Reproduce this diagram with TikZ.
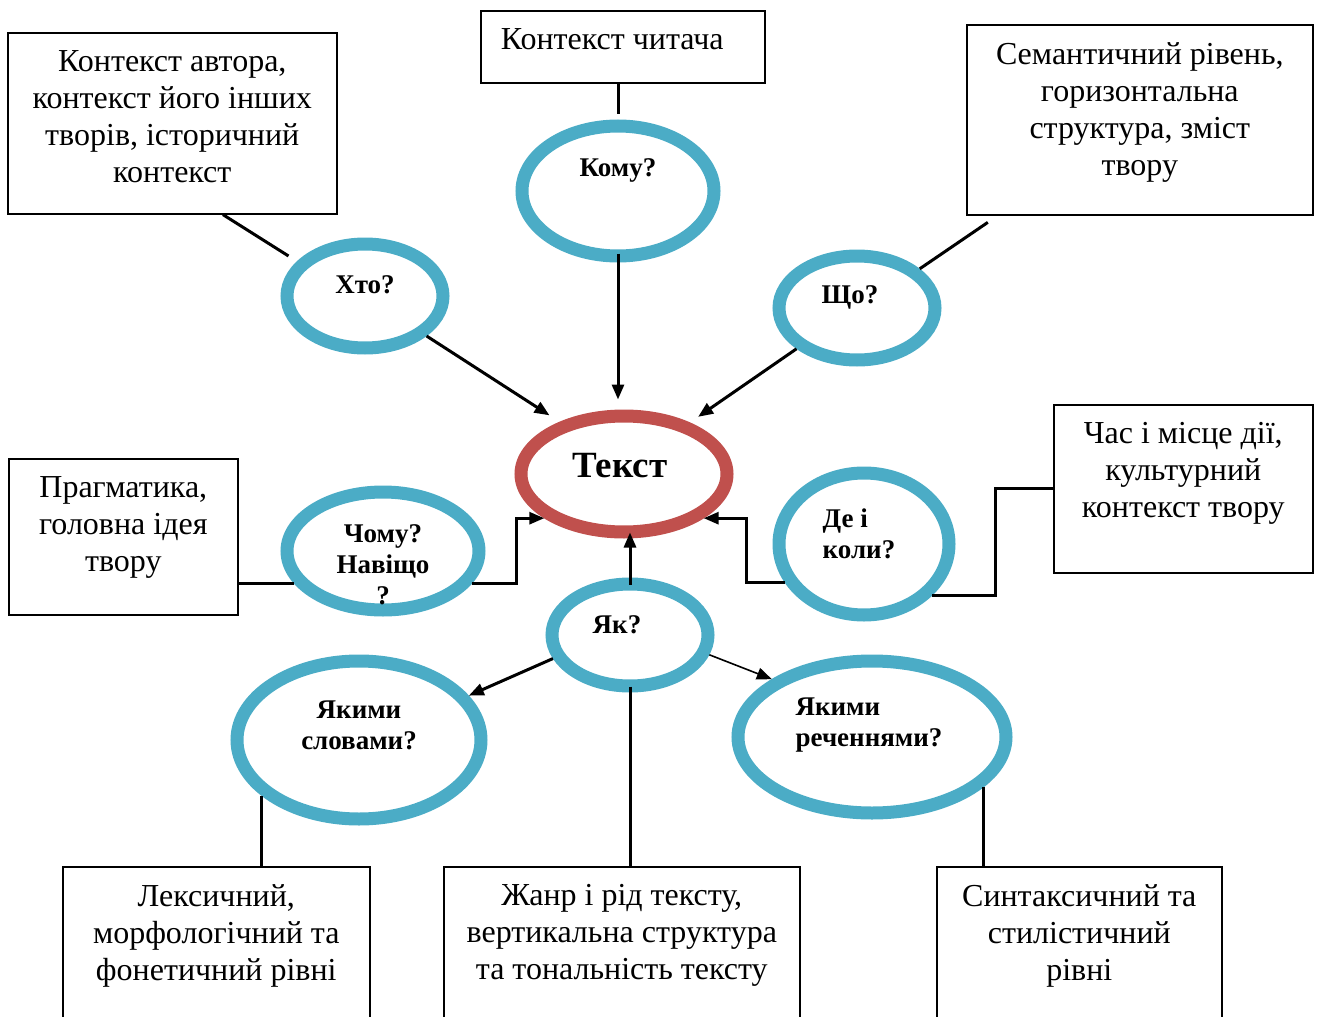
\documentclass[tikz,border=0pt]{standalone}
\usepackage{fontspec}
\setmainfont{Liberation Serif}
\usepackage{tikz}
\usetikzlibrary{arrows.meta,shapes.geometric}
\definecolor{ring_blue}{RGB}{75,172,198}
\definecolor{ring_red}{RGB}{192,80,77}
\newcommand{\boxtxt}[4][\centering]{\parbox[c][#2][t]{#3}{#1#4}}

\begin{document}
\begin{tikzpicture}[x=0.5pt,y=-0.5pt,>={Triangle[length=7.5pt,width=6pt]}]
    \tikzstyle{qring}=[draw=ring_blue, line width=6.5pt, ellipse, inner sep=0pt]
    \tikzstyle{corering}=[qring, draw=ring_red]
    \tikzstyle{qtext}=[font=\bfseries\fontsize{13.5}{15.5}\selectfont, align=center]
    \tikzstyle{ctxbox}=[draw, line width=0.8pt, anchor=north west, inner xsep=0pt, inner ysep=9pt, font=\fontsize{16}{18.5}\selectfont]
    \tikzstyle{link}=[line width=1.5pt]

    \useasboundingbox (0,0) rectangle (1319,1017);
    \clip (0,0) rectangle (1319,1017);

    % context boxes
    \node[ctxbox] (author)    at (7,32)    {\boxtxt{72.5pt}{164.5pt}{Контекст автора,\\ контекст його інших\\ творів, історичний\\ контекст}};
    \node[ctxbox] (reader)    at (480,10)  {\boxtxt[\raggedright\hspace*{10pt}]{18pt}{142pt}{Контекст читача}};
    \node[ctxbox] (semantic)  at (966,24)  {\boxtxt{77pt}{173pt}{Семантичний рівень,\\ горизонтальна\\ структура, зміст\\ твору}};
    \node[ctxbox] (setting)   at (1053,404) {\boxtxt{66pt}{129.5pt}{Час і місце дії,\\ культурний\\ контекст твору}};
    \node[ctxbox] (pragmatic) at (8,458)   {\boxtxt{60pt}{114.5pt}{Прагматика,\\ головна ідея\\ твору}};
    \node[ctxbox] (lexical)   at (62,866)  {\boxtxt{100pt}{153.5pt}{Лексичний,\\ морфологічний та\\ фонетичний рівні}};
    \node[ctxbox] (genre)     at (443,866) {\boxtxt{100pt}{178pt}{Жанр і рід тексту,\\ вертикальна структура\\ та тональність тексту}};
    \node[ctxbox] (syntax)    at (936,866) {\boxtxt{100pt}{142.5pt}{Синтаксичний та\\ стилістичний\\ рівні}};

    % questions
    \node[qring, minimum width=96pt, minimum height=65pt, label={[qtext, yshift=10.5pt]center:Кому?}] (whom) at (618,191) {};
    \node[qring, minimum width=78pt, minimum height=52pt, label={[qtext, yshift=5.5pt]center:Хто?}] (who) at (365,296) {};
    \node[qring, minimum width=78pt, minimum height=52pt, label={[qtext, xshift=-3.5pt, yshift=5.5pt]center:Що?}] (what) at (857,308) {};
    \node[corering, minimum width=103pt, minimum height=58pt, label={[qtext, font=\bfseries\fontsize{18.5}{21}\selectfont, xshift=-2pt, yshift=4pt]center:Текст}] (core) at (624,474) {};
    \node[qring, minimum width=96pt, minimum height=59pt, label={[qtext, yshift=-7pt]center:{Чому?\\ Навіщо\\ ?}}] (why) at (383,551) {};
    \node[qring, minimum width=85pt, minimum height=71pt, label={[qtext, align=left, xshift=-2.5pt, yshift=5pt]center:{Де і\\ коли?}}] (wherewhen) at (864,544) {};
    \node[qring, minimum width=78pt, minimum height=51pt, label={[qtext, xshift=-6.5pt, yshift=5pt]center:Як?}] (how) at (630,635) {};
    \node[qring, minimum width=122pt, minimum height=79pt, label={[qtext, yshift=7.5pt]center:{Якими\\ словами?}}] (words) at (359,740) {};
    \node[qring, minimum width=134pt, minimum height=76pt, label={[qtext, align=left, xshift=-1.5pt, yshift=6pt]center:{Якими\\ реченнями?}}] (sentences) at (872,737) {};

    % connectors
    \draw[link, shorten >=5pt] (author.-61) -- (who.153);
    \draw[link, shorten >=3pt] (whom.north |- reader.south) -- (whom.north);
    \draw[link, ->, shorten <=-4.5pt, shorten >=5pt] (whom.south) -- (whom.south |- core.north);
    \draw[link, ->, shorten >=6pt] (who.-33) -- (core.141);
    \draw[link, shorten <=6pt] (semantic.214) -- (what.32);
    \draw[link, ->, shorten >=5pt] (what.214) -- (core.38);
    \draw[link] (why.200) -- (why.200 -| pragmatic.east);
    \draw[link, ->] (why.-20) -- ++(22pt,0pt) |- (core.209);
    \draw[link, ->] (wherewhen.206) -- ++(-19pt,0pt) |- (core.-29);
    \draw[link] (setting.west) -- ++(-29pt,0pt) |- (wherewhen.-37);
    \draw[link, ->, shorten <=-3.5pt, shorten >=-3pt] (how.north) -- (how.north |- core.south);
    \draw[link, ->] (how.197) -- (words.22);
    \draw[line width=0.8pt, ->] (how.-14) -- (sentences.150);
    \draw[link, shorten <=-3pt] (how.south) -- (how.south |- genre.north);
    \draw[link] (words.210) -- (words.210 |- lexical.north);
    \draw[link] (sentences.-24) -- (sentences.-24 |- syntax.north);
\end{tikzpicture}
\end{document}
